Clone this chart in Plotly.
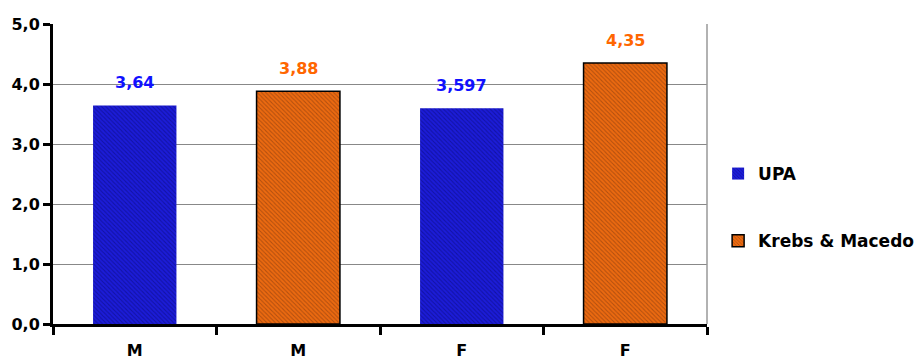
import plotly.graph_objects as go

categories = ["M", "M", "F", "F"]
upa_pos = [0, 2]
upa_vals = [3.64, 3.597]
km_pos = [1, 3]
km_vals = [3.88, 4.35]
y_ticks = [0, 1, 2, 3, 4, 5]
y_ticktext = ["0,0", "1,0", "2,0", "3,0", "4,0", "5,0"]

FONT = "DejaVu Sans, Arial, sans-serif"

fig = go.Figure()
fig.add_trace(go.Bar(
    x=upa_pos, y=upa_vals, name="UPA", width=0.51, legendgroup="a",
    marker=dict(color="#1818c8", line=dict(width=0),
                pattern=dict(shape="\\", bgcolor="#1c1cd8", fgcolor="#0a0a70",
                             size=3, solidity=0.35)),
))
fig.add_trace(go.Bar(
    x=km_pos, y=km_vals, name="Krebs & Macedo", width=0.51, legendgroup="b",
    marker=dict(color="#d25e14", line=dict(width=1.5, color="black"),
                pattern=dict(shape="\\", bgcolor="#ec6a10", fgcolor="#7a3510",
                             size=3, solidity=0.35)),
))

def fmt(v):
    return str(v).replace(".", ",")

for xs, vs, col in [(upa_pos, upa_vals, "#1010ff"), (km_pos, km_vals, "#ff6600")]:
    for xv, v in zip(xs, vs):
        fig.add_annotation(x=xv, y=v, text=fmt(v), showarrow=False,
                           yanchor="middle", yshift=23,
                           font=dict(family=FONT, size=16, color=col, weight="bold"))

fig.add_shape(type="line", xref="paper", yref="paper", x0=1, x1=1, y0=0, y1=1,
              line=dict(color="#999999", width=1.5))

fig.update_layout(
    width=921, height=360,
    margin=dict(l=53, r=214, t=24, b=36, autoexpand=False),
    plot_bgcolor="white", paper_bgcolor="white",
    barmode="overlay",
    showlegend=True,
    legend=dict(x=1.017, xanchor="left", y=0.56, yanchor="top",
                font=dict(family=FONT, size=17, color="black", weight="bold"),
                tracegroupgap=42, itemwidth=30),
    xaxis=dict(range=[-0.5, 3.5], tickvals=[0, 1, 2, 3], ticktext=categories,
               ticks="", showgrid=False, zeroline=False, automargin=False,
               showline=True, linecolor="black", linewidth=3,
               tickfont=dict(family=FONT, size=16, color="black", weight="bold"),
               ticklabelstandoff=10,
               minor=dict(tick0=-0.5, dtick=1, ticks="outside", ticklen=8,
                          tickwidth=3, tickcolor="black", showgrid=False)),
    yaxis=dict(range=[0, 5], tickvals=y_ticks, ticktext=y_ticktext,
               ticks="outside", ticklen=7, tickwidth=3, tickcolor="black",
               showgrid=True, gridcolor="#888888", gridwidth=1, zeroline=False,
               showline=True, linecolor="black", linewidth=3, automargin=False,
               tickfont=dict(family=FONT, size=16, color="black", weight="bold")),
)

fig.write_html("out.html")
